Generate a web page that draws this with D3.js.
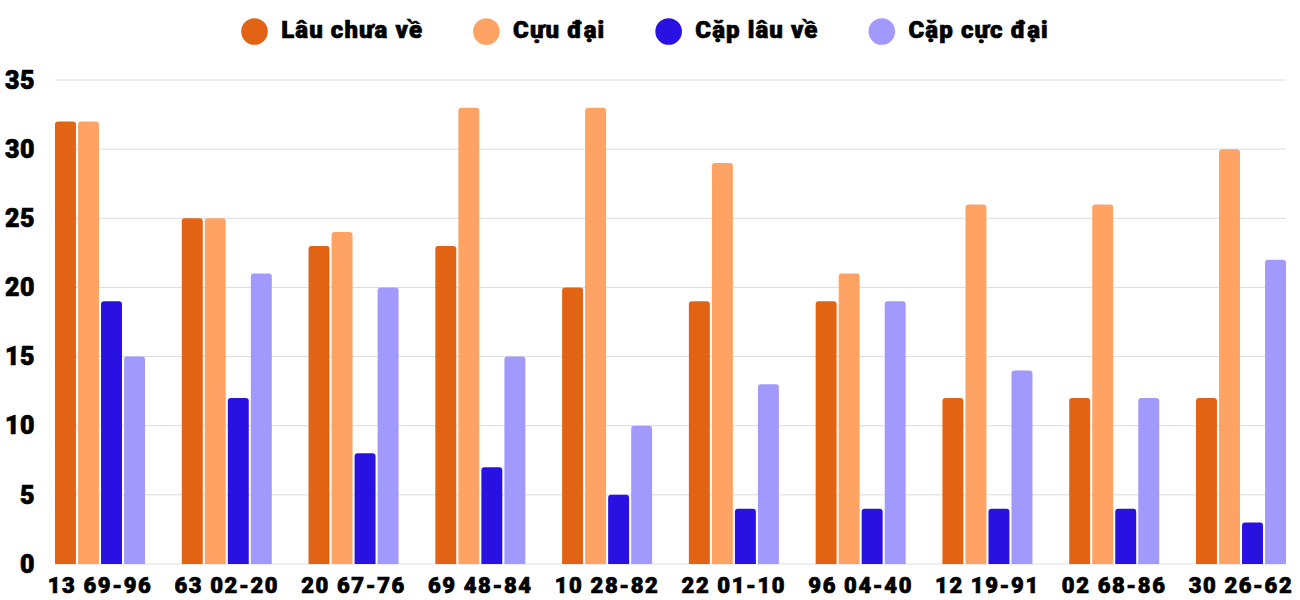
<!DOCTYPE html>
<html>
<head>
<meta charset="utf-8">
<script src="https://cdn.jsdelivr.net/npm/d3@7"></script>
<style>
  body { margin: 0; background: #fff; }
  svg { display: block; font-family: Roboto, "Noto Sans", sans-serif; }
  .lbl { font-weight: 900; fill: #000; stroke: #000; stroke-width: 0.7px; }
</style>
</head>
<body>
<div id="chart"></div>
<script>
// data
const categories = ["13 69-96", "63 02-20", "20 67-76", "69 48-84", "10 28-82",
                    "22 01-10", "96 04-40", "12 19-91", "02 68-86", "30 26-62"];
const seriesNames = ["Lâu chưa về", "Cựu đại", "Cặp lâu về", "Cặp cực đại"];
const lauChuaVe  = [32, 25, 23, 23, 20, 19, 19, 12, 12, 12];
const cuuDai     = [32, 25, 24, 33, 33, 29, 21, 26, 26, 30];
const capLauVe   = [19, 12, 8, 7, 5, 4, 4, 4, 4, 3];
const capCucDai  = [15, 21, 20, 15, 10, 13, 19, 14, 12, 22];
const yTicks     = [0, 5, 10, 15, 20, 25, 30, 35];

const colors = ["#e26313", "#ffa365", "#2911e2", "#a299fd"];
const values = [lauChuaVe, cuuDai, capLauVe, capCucDai];

// 1) layout
const width = 1300, height = 600;
const margin = { top: 80, right: 14, bottom: 36, left: 55 };

const svg = d3.select("#chart").append("svg")
  .attr("width", width)
  .attr("height", height);

// 2) scales
const x0 = d3.scaleBand()
  .domain(categories)
  .range([margin.left, width - margin.right])
  .paddingInner(0.29)
  .paddingOuter(0);

const x1 = d3.scaleBand()
  .domain(seriesNames)
  .range([0, x0.bandwidth()])
  .paddingInner(0.09);

const y = d3.scaleLinear()
  .domain([0, 35])
  .range([height - margin.bottom, margin.top]);

// 3) gridlines
svg.append("g")
  .selectAll("line")
  .data(yTicks)
  .join("line")
    .attr("x1", margin.left)
    .attr("x2", width - margin.right)
    .attr("y1", d => y(d))
    .attr("y2", d => y(d))
    .attr("stroke", "#dcdcdc")
    .attr("stroke-width", 1);

// y labels
svg.append("g")
  .selectAll("text")
  .data(yTicks)
  .join("text")
    .attr("class", "lbl")
    .attr("x", 35)
    .attr("y", d => y(d))
    .attr("dy", "0.35em")
    .attr("text-anchor", "end")
    .attr("font-size", 25)
    .attr("letter-spacing", 0.5)
    .text(d => d);

// 4) bars with rounded tops
function barPath(x, w, top, bottom, r) {
  r = Math.min(r, (bottom - top), w / 2);
  return `M${x},${bottom}V${top + r}Q${x},${top} ${x + r},${top}` +
         `H${x + w - r}Q${x + w},${top} ${x + w},${top + r}V${bottom}Z`;
}

const rows = categories.map((c, i) => ({
  cat: c,
  vals: seriesNames.map((s, k) => ({ s, k, v: values[k][i] }))
}));

const groups = svg.append("g")
  .selectAll("g")
  .data(rows)
  .join("g")
    .attr("transform", d => `translate(${x0(d.cat)},0)`);

groups.selectAll("path")
  .data(d => d.vals)
  .join("path")
    .attr("d", d => barPath(x1(d.s), x1.bandwidth(), y(d.v), y(0), 3))
    .attr("fill", d => colors[d.k]);

// x labels
svg.append("g")
  .selectAll("text")
  .data(categories)
  .join("text")
    .attr("class", "lbl")
    .attr("x", d => x0(d) + x0.bandwidth() / 2)
    .attr("y", 593)
    .attr("text-anchor", "middle")
    .attr("font-size", 22)
    .attr("letter-spacing", 1.6)
    .text(d => d);

// 5) legend, centred
const legend = svg.append("g");
const items = legend.selectAll("g")
  .data(seriesNames)
  .join("g");

items.append("circle")
  .attr("r", 13.3)
  .attr("cx", 13.3)
  .attr("cy", 31.5)
  .attr("fill", (d, i) => colors[i]);

items.append("text")
  .attr("class", "lbl")
  .attr("x", 40)
  .attr("y", 38)
  .attr("font-size", 24)
  .attr("letter-spacing", 1.1)
  .text(d => d);

let offset = 0;
items.each(function () {
  const g = d3.select(this);
  g.attr("transform", `translate(${offset},0)`);
  const tw = g.select("text").node().getComputedTextLength();
  offset += 40 + tw + 50;
});
const total = offset - 50;
legend.attr("transform", `translate(${645 - total / 2},0)`);
</script>
</body>
</html>
